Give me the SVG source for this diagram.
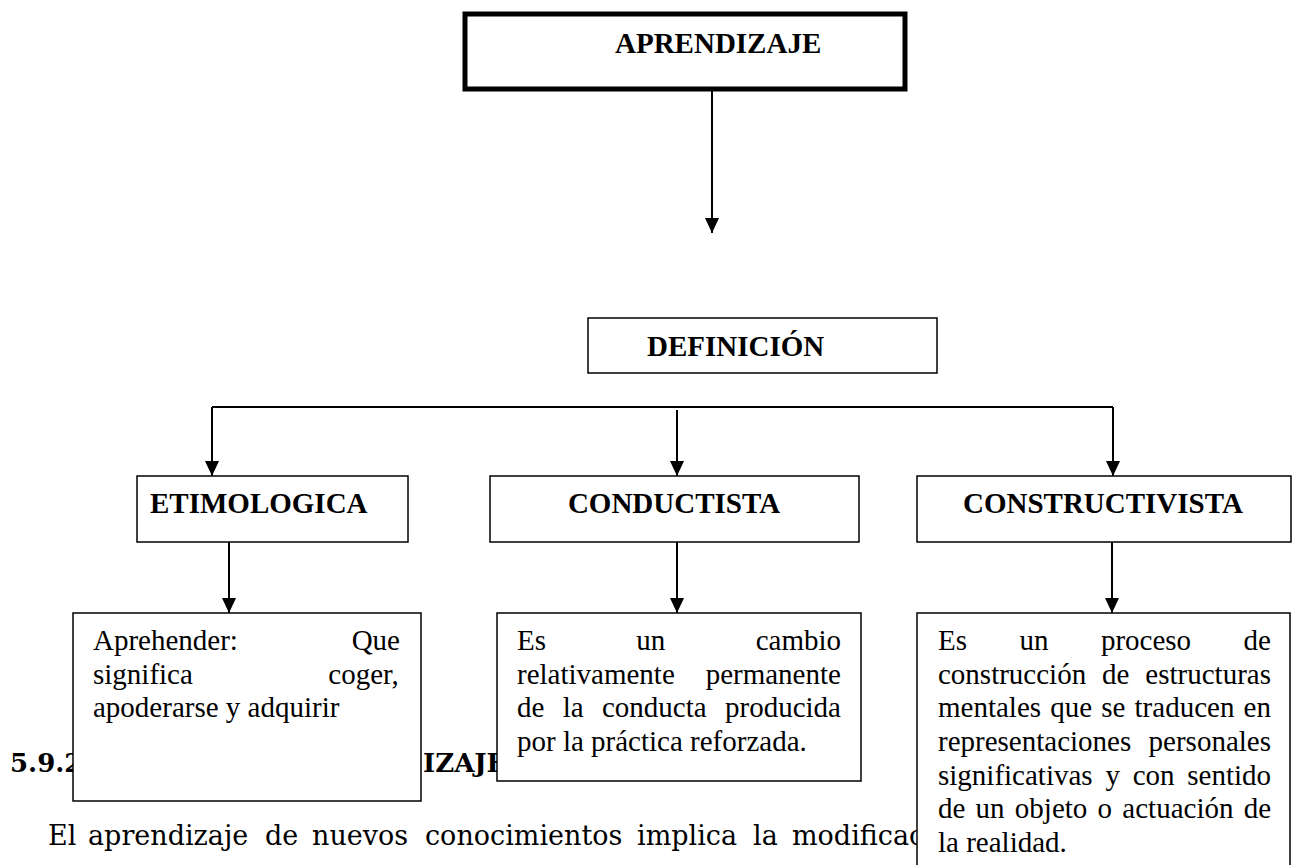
<svg xmlns="http://www.w3.org/2000/svg" width="1298" height="865" viewBox="0 0 1298 865">
<defs>
<marker id="ah" markerUnits="userSpaceOnUse" markerWidth="16" markerHeight="14" refX="15" refY="7" orient="auto">
<path d="M0,0 L15,7 L0,14 z" fill="#000"/>
</marker>
<style>
.box{fill:#fff;stroke:#000;stroke-width:1.5}
.hd{font-family:"Liberation Serif","Times New Roman",serif;font-weight:bold;font-size:29px;fill:#000}
.tx{font-family:"Liberation Serif","Times New Roman",serif;font-size:29px;fill:#000}
.bg{font-family:"DejaVu Serif",serif;font-size:27px;fill:#000}
.bgb{font-family:"DejaVu Serif",serif;font-size:26px;font-weight:bold;fill:#000}
.cn{fill:none;stroke:#000;stroke-width:2}
</style>
</defs>
<rect width="1298" height="865" fill="#fff"/>
<g id="background-text">
<text class="bgb" x="10" y="772">5.9.2</text>
<text class="bgb" x="423" y="772">IZAJE</text>
<text class="bg" y="845"><tspan x="48">El</tspan><tspan x="88">aprendizaje</tspan><tspan x="265">de</tspan><tspan x="312">nuevos</tspan><tspan x="425">conocimientos</tspan><tspan x="637">implica</tspan><tspan x="753">la</tspan><tspan x="792">modificac</tspan></text>
</g>
<g id="connectors">
<path class="cn" d="M712,91 V233" marker-end="url(#ah)"/>
<path class="cn" d="M212,407 H1113"/>
<path class="cn" d="M212,407 V476" marker-end="url(#ah)"/>
<path class="cn" d="M677,410 V476" marker-end="url(#ah)"/>
<path class="cn" d="M1113,407 V476" marker-end="url(#ah)"/>
<path class="cn" d="M229,542 V613" marker-end="url(#ah)"/>
<path class="cn" d="M677,542 V613" marker-end="url(#ah)"/>
<path class="cn" d="M1112,542 V613" marker-end="url(#ah)"/>
</g>
<g id="n-aprendizaje">
<rect x="465" y="14" width="440" height="75" fill="#fff" stroke="#000" stroke-width="5"/>
<text class="hd" x="615" y="53">APRENDIZAJE</text>
</g>
<g id="n-definicion">
<rect class="box" x="588" y="318" width="349" height="55"/>
<text class="hd" x="647" y="356">DEFINICIÓN</text>
</g>
<g id="n-etimologica">
<rect class="box" x="137" y="476" width="271" height="66"/>
<text class="hd" x="150" y="513">ETIMOLOGICA</text>
</g>
<g id="n-conductista">
<rect class="box" x="490" y="476" width="369" height="66"/>
<text class="hd" x="674" y="513" text-anchor="middle">CONDUCTISTA</text>
</g>
<g id="n-constructivista">
<rect class="box" x="917" y="476" width="374" height="66"/>
<text class="hd" x="963" y="513">CONSTRUCTIVISTA</text>
</g>
<g id="n-def-etimologica">
<rect class="box" x="73" y="613" width="348" height="188"/>
<text class="tx" x="93" y="650" word-spacing="106.5">Aprehender: Que</text>
<text class="tx" x="93" y="684" word-spacing="128.2">significa coger,</text>
<text class="tx" x="93" y="717">apoderarse y adquirir</text>
</g>
<g id="n-def-conductista">
<rect class="box" x="497" y="613" width="364" height="168"/>
<text class="tx" x="517" y="650" word-spacing="83.1">Es un cambio</text>
<text class="tx" x="517" y="684" word-spacing="23.6">relativamente permanente</text>
<text class="tx" x="517" y="717" word-spacing="11.1">de la conducta producida</text>
<text class="tx" x="517" y="751">por la práctica reforzada.</text>
</g>
<g id="n-def-constructivista">
<rect class="box" x="917" y="613" width="373" height="260"/>
<text class="tx" x="938" y="650" word-spacing="45.2">Es un proceso de</text>
<text class="tx" x="938" y="684" word-spacing="8.65">construcción de estructuras</text>
<text class="tx" x="938" y="717" word-spacing="1.9">mentales que se traducen en</text>
<text class="tx" x="938" y="751" word-spacing="10.1">representaciones personales</text>
<text class="tx" x="938" y="785" word-spacing="5.5">significativas y con sentido</text>
<text class="tx" x="938" y="818" word-spacing="3.0">de un objeto o actuación de</text>
<text class="tx" x="938" y="852">la realidad.</text>
</g>
</svg>
